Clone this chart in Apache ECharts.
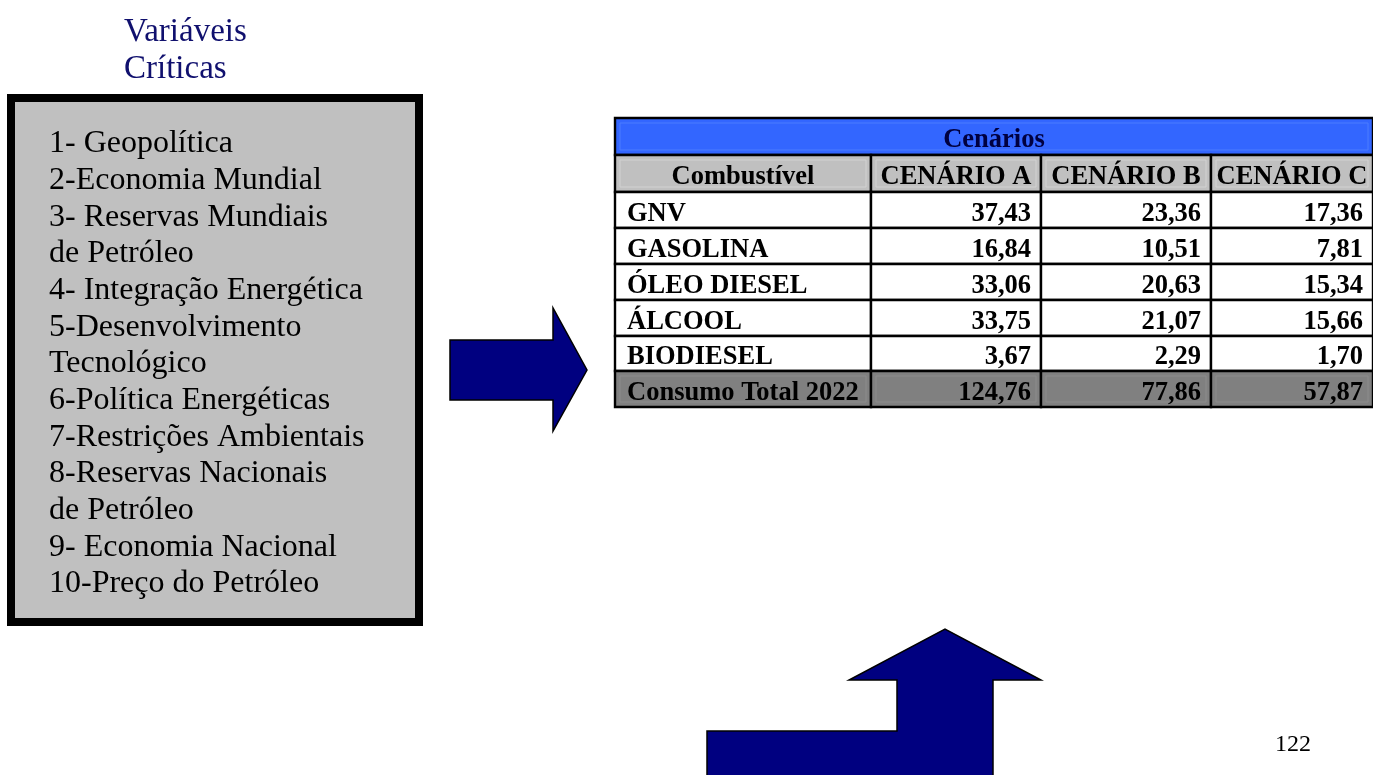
<!DOCTYPE html>
<html>
<head>
<meta charset="utf-8">
<script src="https://cdn.jsdelivr.net/npm/echarts@6/dist/echarts.min.js"></script>
<style>
  html, body { margin: 0; padding: 0; background: #ffffff; }
  #chart { width: 1373px; height: 775px; }
</style>
</head>
<body>
<div id="chart"></div>
<script>
// ---- Content ----
const panelTitle = ['Variáveis', 'Críticas'];
const criticalVariables = [
  '1- Geopolítica',
  '2-Economia Mundial',
  '3- Reservas Mundiais',
  'de Petróleo',
  '4- Integração Energética',
  '5-Desenvolvimento',
  'Tecnológico',
  '6-Política Energéticas',
  '7-Restrições Ambientais',
  '8-Reservas Nacionais',
  'de Petróleo',
  '9- Economia Nacional',
  '10-Preço do Petróleo'
];
const tableTitle = 'Cenários';
const columnHeaders = ['Combustível', 'CENÁRIO A', 'CENÁRIO B', 'CENÁRIO C'];
const fuels = ['GNV', 'GASOLINA', 'ÓLEO DIESEL', 'ÁLCOOL', 'BIODIESEL'];
const cenarioA = [37.43, 16.84, 33.06, 33.75, 3.67];
const cenarioB = [23.36, 10.51, 20.63, 21.07, 2.29];
const cenarioC = [17.36, 7.81, 15.34, 15.66, 1.70];
const totalLabel = 'Consumo Total 2022';
const totals = [124.76, 77.86, 57.87];
const pageNumber = '122';

// ---- Layout ----
const colEdges = [0, 256, 426, 596, 758];            // column boundaries (table units)
const rowEdges = [0, 37, 74, 110, 146, 182, 218, 253, 289]; // row boundaries (table units)
const SERIF = '"Liberation Serif", "Times New Roman", serif';
const NAVY = '#000080';

const fmt = v => v.toFixed(2).replace('.', ',');

// Table cells: [firstCol, lastCol+1, row, text, kind, align]
const cells = [];
cells.push([0, 4, 0, tableTitle, 'title', 'center']);
columnHeaders.forEach((h, i) => cells.push([i, i + 1, 1, h, 'header', 'center']));
const scen = [cenarioA, cenarioB, cenarioC];
fuels.forEach((f, r) => {
  cells.push([0, 1, r + 2, f, 'body', 'left']);
  scen.forEach((s, c) => cells.push([c + 1, c + 2, r + 2, fmt(s[r]), 'body', 'right']));
});
cells.push([0, 1, fuels.length + 2, totalLabel, 'total', 'left']);
totals.forEach((t, c) => cells.push([c + 1, c + 2, fuels.length + 2, fmt(t), 'total', 'right']));

const fills = { title: '#3366ff', header: '#c0c0c0', body: '#ffffff', total: '#808080' };
const insets = { title: '#4d7cff', header: '#d2d2d2', total: '#8c8c8c' };

function renderCell(params, api) {
  const [c0, c1, r, text, kind, align] = cells[params.dataIndex];
  const tl = api.coord([colEdges[c0], rowEdges[r]]);
  const br = api.coord([colEdges[c1], rowEdges[r + 1]]);
  const x = tl[0], y = tl[1], w = br[0] - tl[0], h = br[1] - tl[1];
  const children = [
    { type: 'rect', shape: { x, y, width: w, height: h },
      style: { fill: fills[kind], stroke: '#000', lineWidth: 2.4 } }
  ];
  if (insets[kind]) {
    children.push({ type: 'rect', shape: { x: x + 5, y: y + 5, width: w - 10, height: h - 10 },
      style: { fill: 'none', stroke: insets[kind], lineWidth: 1 } });
  }
  let tx = x + w / 2;
  if (align === 'left') tx = x + 12;
  if (align === 'right') tx = x + w - 10;
  children.push({
    type: 'text', x: tx, y: y + h / 2 + 4,
    style: {
      text, fill: kind === 'title' ? '#000040' : '#000',
      font: 'bold 26.5px ' + SERIF, align, verticalAlign: 'middle'
    }
  });
  return { type: 'group', children };
}

// ---- Surrounding diagram: title, variables panel, arrows, page number ----
const graphics = [];
panelTitle.forEach((t, i) => graphics.push({
  type: 'text', x: 124, y: 16 + i * 36.7,
  style: { text: t, font: '33px ' + SERIF, fill: '#10106e', verticalAlign: 'top' }
}));
graphics.push({
  type: 'rect', shape: { x: 11, y: 98, width: 408, height: 524 },
  style: { fill: '#c0c0c0', stroke: '#000', lineWidth: 8 }
});
criticalVariables.forEach((t, i) => graphics.push({
  type: 'text', x: 49, y: 128 + i * 36.67,
  style: { text: t, font: '32px ' + SERIF, fill: '#000', align: 'left', verticalAlign: 'top' }
}));
// arrow pointing to the table
graphics.push({
  type: 'polygon',
  shape: { points: [[450, 340], [553, 340], [553, 308], [587, 370], [553, 431], [553, 400], [450, 400]] },
  style: { fill: NAVY, stroke: '#000', lineWidth: 1.5 }
});
// bent arrow pointing up towards the table
graphics.push({
  type: 'polygon',
  shape: { points: [[707, 790], [707, 731], [897, 731], [897, 680], [849, 680], [945, 629], [1041, 680], [993, 680], [993, 790]] },
  style: { fill: NAVY, stroke: '#000', lineWidth: 1.5 }
});
graphics.push({
  type: 'text', x: 1275, y: 733,
  style: { text: pageNumber, font: '24px ' + SERIF, fill: '#000', verticalAlign: 'top' }
});

const chart = echarts.init(document.getElementById('chart'), null, { renderer: 'canvas' });
chart.setOption({
  backgroundColor: '#ffffff',
  animation: false,
  grid: { left: 615, top: 118, width: 758, height: 289, containLabel: false },
  xAxis: { type: 'value', min: colEdges[0], max: colEdges[colEdges.length - 1], show: false },
  yAxis: { type: 'value', min: rowEdges[0], max: rowEdges[rowEdges.length - 1], inverse: true, show: false },
  graphic: graphics,
  series: [{
    type: 'custom',
    renderItem: renderCell,
    data: cells.map(c => [colEdges[c[0]], rowEdges[c[2]]]),
    encode: { x: 0, y: 1 },
    clip: false,
    silent: true
  }]
});
</script>
</body>
</html>
